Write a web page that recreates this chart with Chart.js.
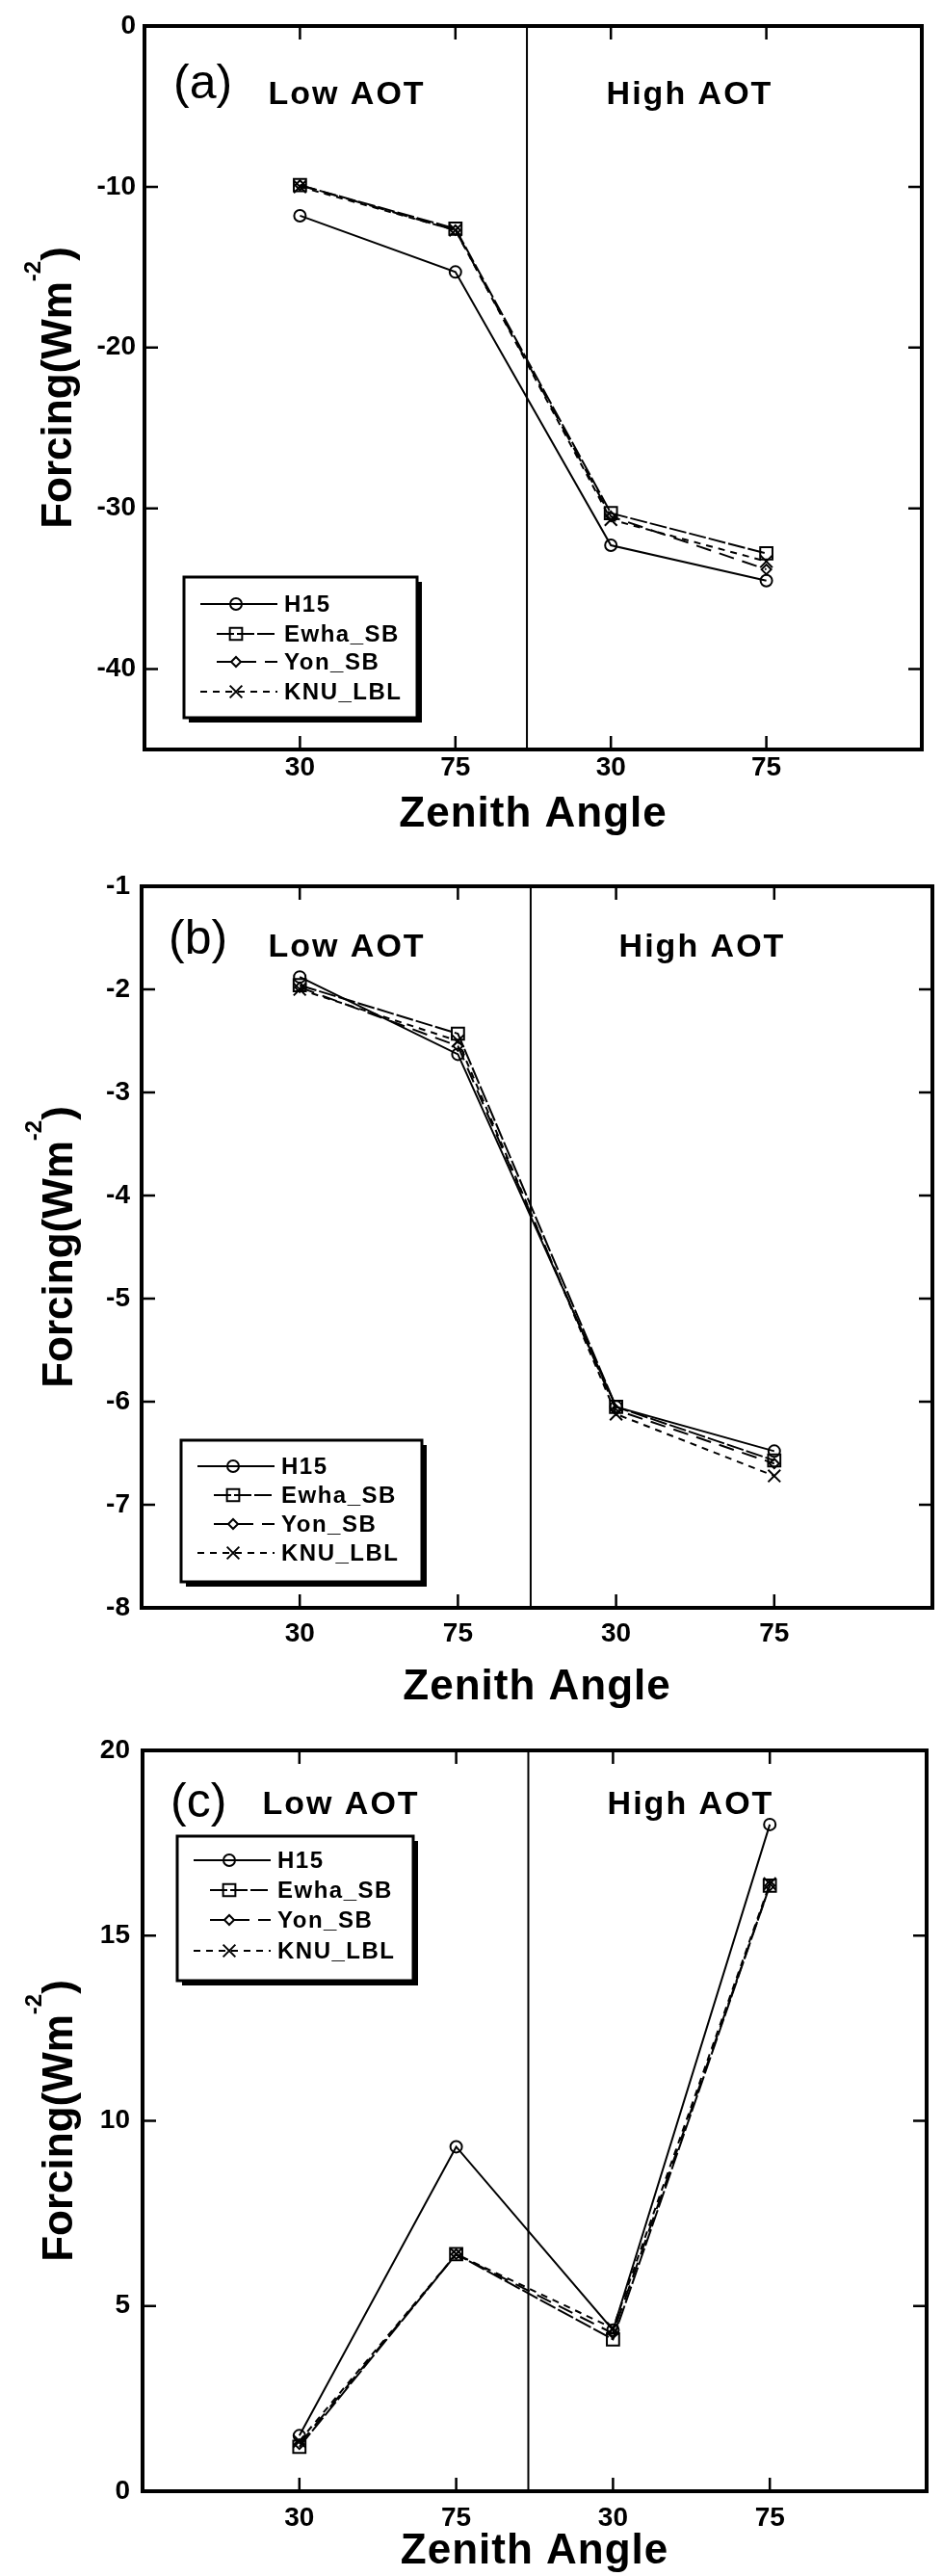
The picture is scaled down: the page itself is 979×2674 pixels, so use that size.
<!DOCTYPE html>
<html lang="en">
<head>
<meta charset="UTF-8">
<title>Forcing vs zenith angle</title>
<script src="https://cdn.jsdelivr.net/npm/chart.js"></script>
<style>
  html, body { margin: 0; padding: 0; background: #fff; }
  #page { position: relative; width: 979px; height: 2674px; overflow: hidden; }
  #page canvas { position: absolute; left: 0; }
</style>
</head>
<body>
<div id="page">
  <canvas id="chartA" width="979" height="950" style="top:0px"></canvas>
  <canvas id="chartB" width="979" height="950" style="top:870px"></canvas>
  <canvas id="chartC" width="979" height="900" style="top:1774px"></canvas>
</div>
<script>
// zenith angle cases: two low-AOT runs then two high-AOT runs
const zenithPos = [1, 2, 3, 4];
const zenithLabels = ['30', '75', '30', '75'];
const aotSplit = 2.46;
const aotNames = ['Low AOT', 'High AOT'];
const seriesNames = ['H15', 'Ewha_SB', 'Yon_SB', 'KNU_LBL'];

// (a)
const aH15  = [-11.8, -15.3, -32.3, -34.5];
const aEwha = [-9.9, -12.6, -30.3, -32.8];
const aYon  = [-9.9, -12.7, -30.5, -33.8];
const aKnu  = [-10.0, -12.7, -30.7, -33.3];
const aTicks = [0, -10, -20, -30, -40];

// (b)
const bH15  = [-1.88, -2.63, -6.05, -6.48];
const bEwha = [-1.96, -2.43, -6.05, -6.57];
const bYon  = [-1.98, -2.55, -6.08, -6.60];
const bKnu  = [-2.00, -2.50, -6.12, -6.72];
const bTicks = [-1, -2, -3, -4, -5, -6, -7, -8];

// (c)
const cH15  = [1.5, 9.3, 4.35, 18.0];
const cEwha = [1.2, 6.4, 4.1, 16.35];
const cYon  = [1.27, 6.4, 4.26, 16.35];
const cKnu  = [1.35, 6.4, 4.4, 16.4];
const cTicks = [0, 5, 10, 15, 20];

const FONT = '"Liberation Sans", Arial, Helvetica, sans-serif';
const W = 979;

const seriesStyle = [
  { pointStyle: 'circle',   pointRadius: 6, borderDash: [],       legendStart: 0 },
  { pointStyle: 'rect',     pointRadius: 9, borderDash: [18, 3],  legendStart: 17 },
  { pointStyle: 'rectRot',  pointRadius: 5, borderDash: [16, 9],  legendStart: 17 },
  { pointStyle: 'crossRot', pointRadius: 9, borderDash: [7, 6],   legendStart: 0 }
];

// layout of each panel, in its own canvas coordinates
const panels = [
  {
    id: 'chartA', height: 950, tag: '(a)', series: [aH15, aEwha, aYon, aKnu],
    ticks: aTicks, min: -45, max: 0,
    area: { left: 150, right: 957, top: 27, bottom: 778 },
    xTickPad: 2, yTickPad: 9,
    tagPos: [180, 102], aotY: 108, aotX: [360, 716],
    legend: { x: 191, y: 599, w: 242, h: 146, rows: [627, 658, 687, 718] },
    yTitleX: 74, xTitleY: 858
  },
  {
    id: 'chartB', height: 950, tag: '(b)', series: [bH15, bEwha, bYon, bKnu],
    ticks: bTicks, min: -8, max: -1,
    area: { left: 147, right: 977, top: 50, bottom: 799 },
    xTickPad: 10, yTickPad: 12,
    tagPos: [175, 120], aotY: 123, aotX: [360, 729],
    legend: { x: 188, y: 625, w: 250, h: 147, rows: [652, 682, 712, 742] },
    yTitleX: 75, xTitleY: 894
  },
  {
    id: 'chartC', height: 900, tag: '(c)', series: [cH15, cEwha, cYon, cKnu],
    ticks: cTicks, min: 0, max: 20,
    area: { left: 148, right: 962, top: 43, bottom: 812 },
    xTickPad: 11, yTickPad: 13,
    tagPos: [177, 112], aotY: 109, aotX: [354, 717],
    legend: { x: 184, y: 132, w: 245, h: 150, rows: [157, 188, 219, 251] },
    yTitleX: 75, xTitleY: 887
  }
];

function markPoint(ctx, ds, x, y) {
  ctx.save();
  ctx.strokeStyle = '#000';
  ctx.fillStyle = 'rgba(0,0,0,0)';
  ctx.lineWidth = 2;
  ctx.setLineDash([]);
  Chart.helpers.drawPoint(ctx, {
    pointStyle: ds.pointStyle, radius: ds.pointRadius, rotation: 0, borderWidth: 2
  }, x, y);
  ctx.restore();
}

function drawLegend(ctx, chart, lg) {
  ctx.save();
  ctx.fillStyle = '#000';
  ctx.fillRect(lg.x + 5, lg.y + 5, lg.w, lg.h);
  ctx.fillStyle = '#fff';
  ctx.fillRect(lg.x, lg.y, lg.w, lg.h);
  ctx.strokeStyle = '#000';
  ctx.lineWidth = 3;
  ctx.strokeRect(lg.x, lg.y, lg.w, lg.h);

  ctx.font = 'bold 24px ' + FONT;
  ctx.letterSpacing = '1.5px';
  ctx.textBaseline = 'middle';
  ctx.textAlign = 'left';
  chart.data.datasets.forEach((ds, i) => {
    const yRow = lg.rows[i];
    ctx.lineWidth = 2;
    ctx.setLineDash(ds.borderDash);
    ctx.beginPath();
    ctx.moveTo(lg.x + 17 + seriesStyle[i].legendStart, yRow);
    ctx.lineTo(lg.x + 97, yRow);
    ctx.stroke();
    markPoint(ctx, ds, lg.x + 54, yRow);
    ctx.fillStyle = '#000';
    ctx.fillText(ds.label, lg.x + 104, yRow + 1);
  });
  ctx.restore();
}

function drawYTitle(ctx, cx, cy) {
  const main = 'bold 44px ' + FONT;
  const sup = 'bold 24px ' + FONT;
  ctx.save();
  ctx.translate(cx, cy);
  ctx.rotate(-Math.PI / 2);
  ctx.fillStyle = '#000';
  ctx.textAlign = 'left';
  ctx.textBaseline = 'alphabetic';
  ctx.font = main;
  const w1 = ctx.measureText('Forcing(Wm').width;
  const w3 = ctx.measureText(')').width;
  ctx.font = sup;
  const w2 = ctx.measureText('-2').width;
  const x0 = -(w1 + w2 + w3) / 2;
  ctx.font = main;
  ctx.fillText('Forcing(Wm', x0, 0);
  ctx.font = sup;
  ctx.fillText('-2', x0 + w1, -32);
  ctx.font = main;
  ctx.fillText(')', x0 + w1 + w2, 0);
  ctx.restore();
}

function panelPlugin(p) {
  return {
    id: 'panelDecor',
    beforeDatasetsDraw(chart) {
      const { ctx, chartArea: a, scales: { x } } = chart;
      const xs = x.getPixelForValue(aotSplit);
      ctx.save();
      ctx.strokeStyle = '#000';
      ctx.lineWidth = 2;
      ctx.beginPath();
      ctx.moveTo(xs, a.top);
      ctx.lineTo(xs, a.bottom);
      ctx.stroke();
      ctx.restore();
    },
    afterDraw(chart) {
      const { ctx, chartArea: a, scales: { x, y } } = chart;
      ctx.save();
      ctx.strokeStyle = '#000';
      // inward tick marks on all four sides
      ctx.lineWidth = 2.5;
      ctx.beginPath();
      p.ticks.forEach(v => {
        const py = y.getPixelForValue(v);
        ctx.moveTo(a.left, py); ctx.lineTo(a.left + 14, py);
        ctx.moveTo(a.right, py); ctx.lineTo(a.right - 14, py);
      });
      zenithPos.forEach(v => {
        const px = x.getPixelForValue(v);
        ctx.moveTo(px, a.bottom); ctx.lineTo(px, a.bottom - 14);
        ctx.moveTo(px, a.top); ctx.lineTo(px, a.top + 14);
      });
      ctx.stroke();
      // frame
      ctx.lineWidth = 4;
      ctx.strokeRect(a.left, a.top, a.right - a.left, a.bottom - a.top);

      // panel tag and AOT group names
      ctx.fillStyle = '#000';
      ctx.textBaseline = 'alphabetic';
      ctx.textAlign = 'left';
      ctx.font = '50px ' + FONT;
      ctx.fillText(p.tag, p.tagPos[0], p.tagPos[1]);
      ctx.font = 'bold 34px ' + FONT;
      ctx.letterSpacing = '2px';
      ctx.textAlign = 'center';
      aotNames.forEach((t, i) => ctx.fillText(t, p.aotX[i], p.aotY));

      // axis titles
      ctx.letterSpacing = '1px';
      ctx.font = 'bold 44px ' + FONT;
      ctx.fillText('Zenith Angle', (a.left + a.right) / 2, p.xTitleY);
      ctx.letterSpacing = '0px';
      ctx.restore();
      drawYTitle(ctx, p.yTitleX, (a.top + a.bottom) / 2);

      drawLegend(ctx, chart, p.legend);
    }
  };
}

function buildChart(p) {
  const datasets = p.series.map((vals, i) => ({
    label: seriesNames[i],
    data: zenithPos.map((xv, j) => ({ x: xv, y: vals[j] })),
    showLine: true,
    borderColor: '#000',
    borderWidth: 2,
    borderDash: seriesStyle[i].borderDash,
    pointStyle: seriesStyle[i].pointStyle,
    pointRadius: seriesStyle[i].pointRadius,
    pointBorderWidth: 2,
    pointBorderColor: '#000',
    pointBackgroundColor: 'rgba(0,0,0,0)',
    tension: 0,
    fill: false
  }));
  const tickFont = { family: FONT, size: 28, weight: 'bold' };
  return new Chart(document.getElementById(p.id), {
    type: 'scatter',
    data: { datasets: datasets },
    options: {
      responsive: false,
      animation: false,
      devicePixelRatio: 1,
      layout: { padding: { top: p.area.top, right: W - p.area.right, left: 0, bottom: 0 } },
      plugins: { legend: { display: false }, tooltip: { enabled: false } },
      scales: {
        x: {
          type: 'linear', min: 0, max: 5,
          afterBuildTicks: s => { s.ticks = zenithPos.map(v => ({ value: v })); },
          afterFit: s => { s.height = p.height - p.area.bottom; },
          grid: { display: false, drawTicks: false },
          border: { display: false },
          ticks: {
            font: tickFont, color: '#000', padding: p.xTickPad,
            maxRotation: 0, autoSkip: false,
            callback: v => { const k = zenithPos.indexOf(v); return k < 0 ? '' : zenithLabels[k]; }
          }
        },
        y: {
          type: 'linear', min: p.min, max: p.max,
          afterBuildTicks: s => { s.ticks = p.ticks.map(v => ({ value: v })); },
          afterFit: s => { s.width = p.area.left; },
          grid: { display: false, drawTicks: false },
          border: { display: false },
          ticks: { font: tickFont, color: '#000', padding: p.yTickPad, autoSkip: false }
        }
      }
    },
    plugins: [panelPlugin(p)]
  });
}

panels.forEach(buildChart);
</script>
</body>
</html>
